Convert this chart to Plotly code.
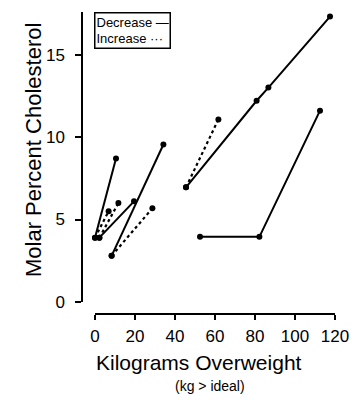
import plotly.graph_objects as go

# Data (kg overweight vs molar percent cholesterol)
decrease_kg = [0, 10.5, None, 2.2, 19.5, None, 8.3, 34.2, None, 45.5, 80.8, 86.7, 117.5, None, 52.5, 82.2, 112.5]
decrease_chol = [3.9, 8.7, None, 3.9, 6.1, None, 2.8, 9.55, None, 6.95, 12.2, 13.0, 17.3, None, 3.95, 3.95, 11.6]
increase_kg = [0, 6.8, None, 2.2, 11.7, None, 8.3, 28.7, None, 45.5, 61.7]
increase_chol = [3.9, 5.5, None, 3.9, 6.0, None, 2.8, 5.68, None, 6.95, 11.07]

x_ticks = [0, 20, 40, 60, 80, 100, 120]
y_ticks = [0, 5, 10, 15]

FONT = "Liberation Sans"

fig = go.Figure()
fig.add_trace(go.Scatter(
    x=increase_kg, y=increase_chol, mode="lines+markers",
    line=dict(color="black", width=2.2, dash="dot"),
    marker=dict(color="black", size=6),
    cliponaxis=False, showlegend=False, connectgaps=False,
))
fig.add_trace(go.Scatter(
    x=decrease_kg, y=decrease_chol, mode="lines+markers",
    line=dict(color="black", width=2),
    marker=dict(color="black", size=6),
    cliponaxis=False, showlegend=False, connectgaps=False,
))

# page body has an 8px margin; figure is sized to compensate
OFF = 8
W, H = 359 - OFF, 400 - OFF
L = 82 - OFF          # y-axis line
T = 12 - OFF          # top of y axis
R = W - (335 - OFF)   # right end of x axis
B = H - (314 - OFF)   # x-axis line
pw = W - L - R
ph = H - T - B

fig.update_layout(
    width=W, height=H,
    margin=dict(l=L, r=R, t=T, b=B, autoexpand=False),
    plot_bgcolor="white", paper_bgcolor="white",
    font=dict(family=FONT, color="black"),
    xaxis=dict(
        domain=[(95 - 82) / pw, 1], range=[0, 120],
        anchor="free", position=0,
        tickvals=x_ticks, ticktext=[str(v) for v in x_ticks],
        ticks="outside", ticklen=5, tickwidth=1.5, tickcolor="black",
        showline=True, linecolor="black", linewidth=1.5,
        showgrid=False, zeroline=False,
        tickfont=dict(size=17, family=FONT),
        ticklabelstandoff=2,
    ),
    yaxis=dict(
        domain=[(314 - 302) / ph, 1], range=[0, 17.58],
        anchor="free", position=0,
        tickvals=y_ticks, ticktext=[str(v) for v in y_ticks],
        ticks="outside", ticklen=6, tickwidth=1.5, tickcolor="black",
        showline=True, linecolor="black", linewidth=1.5,
        showgrid=False, zeroline=False,
        tickfont=dict(size=17, family=FONT),
        ticklabelstandoff=7,
    ),
    annotations=[
        dict(
            xref="paper", yref="paper", x=(94 - 82) / pw, y=1, xanchor="left", yanchor="top",
            text="Decrease —<br>Increase ···", align="left", showarrow=False,
            font=dict(size=13, family=FONT, color="black"),
            bordercolor="black", borderwidth=1.5, borderpad=1, bgcolor="white",
        ),
        dict(
            xref="paper", yref="paper", x=(33 - 82) / pw, y=(314 - 150) / ph,
            xanchor="center", yanchor="middle", textangle=-90,
            text="Molar Percent Cholesterol", showarrow=False,
            font=dict(size=22, family=FONT, color="black"),
        ),
        dict(
            xref="paper", yref="paper", x=(199 - 82) / pw, y=(314 - 362) / ph,
            xanchor="center", yanchor="middle",
            text="Kilograms Overweight", showarrow=False,
            font=dict(size=21, family=FONT, color="black"),
        ),
        dict(
            xref="paper", yref="paper", x=(210 - 82) / pw, y=(314 - 386) / ph,
            xanchor="center", yanchor="middle",
            text="(kg > ideal)", showarrow=False,
            font=dict(size=14, family=FONT, color="black"),
        ),
    ],
)

fig.write_html("out.html")
